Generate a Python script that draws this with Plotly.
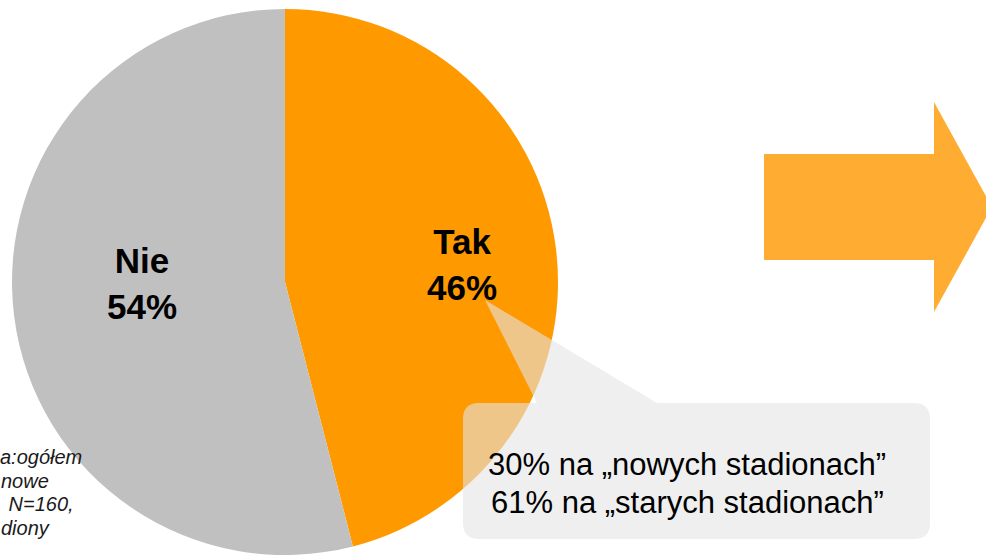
import plotly.graph_objects as go

# data
labels = ["Tak", "Nie"]
values = [46, 54]
colors = ["#FF9900", "#C0C0C0"]

callout_lines = ["30% na „nowych stadionach”", "61% na „starych stadionach”"]
note_lines = ["a:ogółem", "nowe", "\u00a0N=160,", "diony"]

W, H = 986, 557
cx, cy, r = 285, 282, 273


def px(x):
    return x / W


def py(y):
    return 1 - y / H


def path(points):
    # points in pixels -> svg path in paper coords
    parts = []
    for cmd, pts in points:
        coords = " ".join(f"{px(x):.5f},{py(y):.5f}" for x, y in pts)
        parts.append(f"{cmd}{coords}")
    return " ".join(parts) + " Z"


fig = go.Figure(
    go.Pie(
        labels=labels,
        values=values,
        sort=False,
        direction="clockwise",
        rotation=0,
        marker=dict(colors=colors, line=dict(width=0)),
        textinfo="none",
        hoverinfo="label+percent",
        showlegend=False,
        domain=dict(x=[px(cx - r), px(cx + r)], y=[py(cy + r), py(cy - r)]),
    )
)

# callout box with pointer (one path so the transparency does not stack)
x0, x1, y0, y1, rr = 463, 930, 403, 539, 16
callout = path([
    ("M", [(x0 + rr, y0)]),
    ("L", [(537, y0)]),
    ("L", [(485, 300)]),
    ("L", [(657, y0)]),
    ("L", [(x1 - rr, y0)]),
    ("Q", [(x1, y0), (x1, y0 + rr)]),
    ("L", [(x1, y1 - rr)]),
    ("Q", [(x1, y1), (x1 - rr, y1)]),
    ("L", [(x0 + rr, y1)]),
    ("Q", [(x0, y1), (x0, y1 - rr)]),
    ("L", [(x0, y0 + rr)]),
    ("Q", [(x0, y0), (x0 + rr, y0)]),
])

arrow = path([
    ("M", [(764, 154)]),
    ("L", [(934, 154)]),
    ("L", [(934, 102)]),
    ("L", [(992, 207)]),
    ("L", [(934, 312)]),
    ("L", [(934, 260)]),
    ("L", [(764, 260)]),
])

fig.add_shape(type="path", path=callout, xref="paper", yref="paper",
              fillcolor="rgba(229,229,229,0.6)", line=dict(width=0), layer="above")
fig.add_shape(type="path", path=arrow, xref="paper", yref="paper",
              fillcolor="#FFAC33", line=dict(width=0), layer="above")

# slice labels
label_pos = [(462, 264), (142, 283)]
total = sum(values)
for lab, val, (lx, ly) in zip(labels, values, label_pos):
    fig.add_annotation(
        x=px(lx), y=py(ly), xref="paper", yref="paper",
        text=f"<b>{lab}<br>{round(val / total * 100)}%</b>",
        showarrow=False, xanchor="center", yanchor="middle",
        font=dict(family="Liberation Sans, Arial", size=35, color="#000000"),
    )

# callout text
for i, line in enumerate(callout_lines):
    fig.add_annotation(
        x=px(687), y=py(464 + i * 38), xref="paper", yref="paper",
        text=line, showarrow=False, xanchor="center", yanchor="middle",
        font=dict(family="Liberation Sans, Arial", size=31, color="#000000"),
    )

# note text at the left edge
note_x = [-2, -1, 1, -1]
for i, line in enumerate(note_lines):
    fig.add_annotation(
        x=px(note_x[i]), y=py(457 + i * 23.7), xref="paper", yref="paper",
        text=f"<i>{line}</i>", showarrow=False, xanchor="left", yanchor="middle",
        font=dict(family="Liberation Sans, Arial", size=20, color="#1a1a1a"),
    )

fig.update_layout(
    width=W, height=H,
    margin=dict(l=0, r=0, t=0, b=0),
    paper_bgcolor="white",
    plot_bgcolor="white",
)

fig.write_html("out.html", config={"displayModeBar": False},
               post_script="document.body.style.margin='0px';")
